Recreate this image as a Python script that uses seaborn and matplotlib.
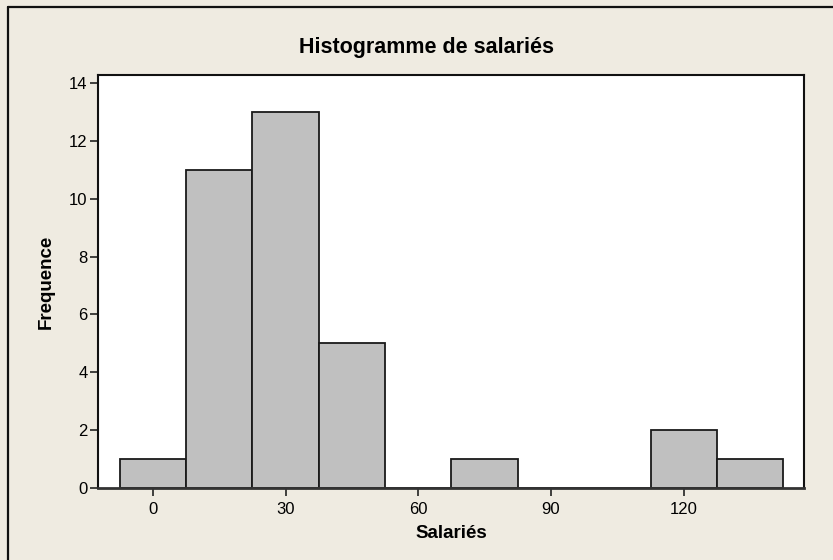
import matplotlib
matplotlib.use("Agg")
import matplotlib.pyplot as plt
import seaborn as sns
import pandas as pd
from matplotlib.lines import Line2D

# Data: bin centres (Salariés) and counts (Frequence)
bin_centers = [0, 15, 30, 45, 60, 75, 90, 105, 120, 135]
counts = [1, 11, 13, 5, 0, 1, 0, 0, 2, 1]
bin_width = 15
x_ticks = [0, 30, 60, 90, 120]
y_ticks = [0, 2, 4, 6, 8, 10, 12, 14]

title = "Histogramme de salariés"
xlabel = "Salariés"
ylabel = "Frequence"

df = pd.DataFrame({"Salariés": bin_centers, "n": counts})

sns.set_style("white")
plt.rcParams["font.family"] = ["Liberation Sans", "DejaVu Sans"]
plt.rcParams["text.color"] = "black"
plt.rcParams["axes.labelcolor"] = "black"
plt.rcParams["xtick.color"] = "black"
plt.rcParams["ytick.color"] = "black"

bg = "#EFEBE1"
fig = plt.figure(figsize=(8.33, 5.6), dpi=100, facecolor=bg)
ax = fig.add_axes([98 / 833, 1 - 488 / 560, (804 - 98) / 833, (488 - 75) / 560])
ax.set_facecolor("white")

sns.histplot(data=df, x="Salariés", weights="n", binwidth=bin_width,
             binrange=(bin_centers[0] - bin_width / 2, bin_centers[-1] + bin_width / 2),
             ax=ax, color="#C0C0C0", edgecolor="#1a1a1a", linewidth=1.3, alpha=1)

ax.set_xlim(-12.4, 147.2)
ax.set_ylim(0, 14.28)
ax.set_xticks(x_ticks)
ax.set_yticks(y_ticks)
ax.tick_params(axis="both", direction="out", length=5.5, width=1.2, color="#222222",
               labelsize=12, labelcolor="black", bottom=True, left=True)
ax.tick_params(axis="x", pad=4.5)
ax.tick_params(axis="y", pad=2)
for s in ax.spines.values():
    s.set_visible(True)
    s.set_color("#111111")
    s.set_linewidth(1.5)
ax.spines["bottom"].set_color("#333333")
ax.spines["bottom"].set_linewidth(2)

ax.set_xlabel(xlabel, fontsize=13.5, fontweight="bold", labelpad=6, color="black")
ax.set_ylabel(ylabel, fontsize=13.5, fontweight="bold", labelpad=10, color="black")
fig.text(426 / 833, 1 - 47 / 560, title, ha="center", va="center",
         fontsize=15.5, fontweight="bold", color="black")

# Outer frame (top and left edges visible)
fig.add_artist(Line2D([8 / 833, 1.0], [1 - 7 / 560, 1 - 7 / 560], color="#111111", lw=1.6,
                      transform=fig.transFigure))
fig.add_artist(Line2D([8 / 833, 8 / 833], [0.0, 1 - 7 / 560], color="#111111", lw=1.6,
                      transform=fig.transFigure))

fig.savefig("out.png", dpi=100, facecolor=bg)
